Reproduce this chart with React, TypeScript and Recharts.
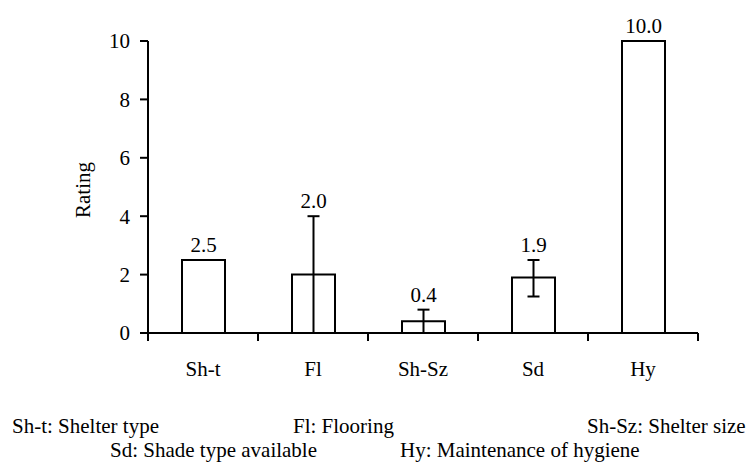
import * as React from "react";
import { Bar, BarChart, ErrorBar, LabelList, XAxis, YAxis, Label } from "recharts";

// values
const categories = ["Sh-t", "Fl", "Sh-Sz", "Sd", "Hy"];
const ratings = [2.5, 2.0, 0.4, 1.9, 10.0];
const errLow = [0, 2.0, 0.4, 0.65, 0];
const errHigh = [0, 2.0, 0.4, 0.6, 0];
const yTicks = [0, 2, 4, 6, 8, 10];
const legendRow1 = ["Sh-t: Shelter type", "Fl: Flooring", "Sh-Sz: Shelter size"];
const legendRow2 = ["Sd: Shade type available", "Hy: Maintenance of hygiene"];

const W = 749;
const H = 463;
const FONT = "Liberation Serif";
const margin = { top: 41, right: 51, left: 88, bottom: 70 };
const Y_AXIS_W = 60;
const X_AXIS_H = 60;
const PLOT_W = W - margin.left - margin.right - Y_AXIS_W;
const PLOT_H = H - margin.top - margin.bottom - X_AXIS_H;
const BAND = PLOT_W / categories.length;
const PX_PER_UNIT = PLOT_H / 10;

const data = categories.map((name, i) => ({
    name,
    rating: ratings[i],
    err: [errLow[i], errHigh[i]],
}));

const textStyle = { fontFamily: FONT, fontSize: 21 };

const XTick = (props: any) => {
    const { x, y, payload, index } = props;
    const left = x - BAND / 2;
    const right = x + BAND / 2;
    return (
        <g>
            <line x1={left} y1={y} x2={left} y2={y + 8} stroke="#000" strokeWidth={2} />
            {index === categories.length - 1 && (
                <line x1={right} y1={y} x2={right} y2={y + 8} stroke="#000" strokeWidth={2} />
            )}
            <text x={x} y={y + 43} textAnchor="middle" fill="#000" style={textStyle}>
                {payload.value}
            </text>
        </g>
    );
};

const ValueLabel = (props: any) => {
    const { x, y, width, value, index } = props;
    const top = y - errHigh[index] * PX_PER_UNIT;
    return (
        <text x={x + width / 2} y={top - 8} textAnchor="middle" fill="#000" style={textStyle}>
            {Number(value).toFixed(1)}
        </text>
    );
};

export default function App() {
    return (
        <div style={{ position: "absolute", left: 0, top: 0, width: W, height: H, background: "#fff", fontFamily: FONT }}>
            <BarChart width={W} height={H} data={data} margin={margin}>
                <XAxis
                    dataKey="name"
                    height={X_AXIS_H}
                    tickLine={false}
                    tickSize={0}
                    tickMargin={0}
                    axisLine={{ stroke: "#000", strokeWidth: 2 }}
                    tick={<XTick />}
                    interval={0}
                />
                <YAxis
                    width={Y_AXIS_W}
                    domain={[0, 10]}
                    ticks={yTicks}
                    tickSize={8}
                    tickMargin={10}
                    axisLine={{ stroke: "#000", strokeWidth: 2 }}
                    tickLine={{ stroke: "#000", strokeWidth: 2 }}
                    tick={{ fill: "#000", fontSize: 21, fontFamily: FONT, style: textStyle }}
                >
                    <Label
                        content={(p: any) => {
                            const vb = p.viewBox;
                            const cx = vb.x - 5;
                            const cy = vb.y + vb.height / 2 + 3;
                            return (
                                <text
                                    x={cx}
                                    y={cy}
                                    transform={`rotate(-90 ${cx} ${cy})`}
                                    textAnchor="middle"
                                    dominantBaseline="central"
                                    fill="#000"
                                    style={textStyle}
                                >
                                    Rating
                                </text>
                            );
                        }}
                    />
                </YAxis>
                <Bar dataKey="rating" fill="#fff" stroke="#000" strokeWidth={2} barSize={43} isAnimationActive={false}>
                    <ErrorBar dataKey="err" width={6} stroke="#000" strokeWidth={2} direction="y" />
                    <LabelList dataKey="rating" content={<ValueLabel />} />
                </Bar>
            </BarChart>
            <svg width={W} height={H} style={{ position: "absolute", left: 0, top: 0, pointerEvents: "none" }}>
                <g fill="#000" style={textStyle}>
                    <text x={12} y={433}>{legendRow1[0]}</text>
                    <text x={293} y={433}>{legendRow1[1]}</text>
                    <text x={587} y={433}>{legendRow1[2]}</text>
                    <text x={110} y={457}>{legendRow2[0]}</text>
                    <text x={400} y={457}>{legendRow2[1]}</text>
                </g>
            </svg>
        </div>
    );
}
